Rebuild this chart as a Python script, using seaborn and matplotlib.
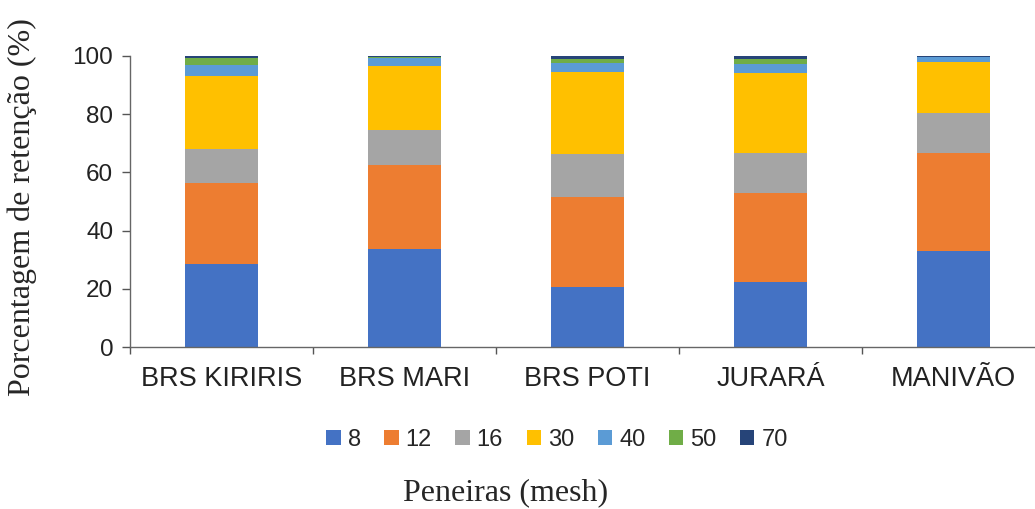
import numpy as np
import pandas as pd
import matplotlib
matplotlib.use("Agg")
import matplotlib.pyplot as plt
import matplotlib.ticker as ticker
from matplotlib.patches import Patch
import seaborn as sns

# Cultivares e frações retidas (%) por peneira (mesh)
cultivares = ["BRS KIRIRIS", "BRS MARI", "BRS POTI", "JURARÁ", "MANIVÃO"]
peneiras = ["8", "12", "16", "30", "40", "50", "70"]
m8 = [28.5, 33.7, 20.6, 22.3, 33.0]
m12 = [27.9, 28.8, 30.9, 30.6, 33.7]
m16 = [11.6, 12.1, 14.8, 13.8, 13.7]
m30 = [25.0, 22.0, 28.2, 27.3, 17.4]
m40 = [4.0, 2.8, 3.2, 3.4, 1.7]
m50 = [2.2, 0.4, 1.4, 1.5, 0.3]
m70 = [0.8, 0.2, 0.9, 1.1, 0.2]
cores = ["#4472C4", "#ED7D31", "#A5A5A5", "#FFC000", "#5B9BD5", "#70AD47", "#264478"]

df = pd.DataFrame({"cultivar": cultivares, "8": m8, "12": m12, "16": m16, "30": m30,
                   "40": m40, "50": m50, "70": m70})
cum = df[peneiras].cumsum(axis=1)
cum["cultivar"] = df["cultivar"]

sns.set_theme(style="white")
plt.rcParams["font.family"] = ["Liberation Sans", "DejaVu Sans"]

fig = plt.figure(figsize=(10.35, 5.09), dpi=100)
ax = fig.add_axes([130 / 1035, 1 - 347 / 509, 915 / 1035, 291 / 509])

# overlay cumulative totals from top layer down
for p, c in reversed(list(zip(peneiras, cores))):
    sns.barplot(data=cum, x="cultivar", y=p, color=c, width=0.4, saturation=1,
                order=cultivares, ax=ax, linewidth=0)

ax.set_xlim(-0.5, 4.5)
ax.set_ylim(0, 100)
ax.yaxis.set_major_locator(ticker.MultipleLocator(20))
ax.xaxis.set_minor_locator(ticker.FixedLocator(np.arange(-0.5, 5, 1)))
ax.tick_params(axis="x", which="major", length=0, labelsize=19.5, pad=14, colors="#222222")
ax.tick_params(axis="x", which="minor", length=5, width=1, color="#555555", direction="out", bottom=True)
ax.tick_params(axis="y", length=6, width=1, color="#555555", direction="out", left=True,
               labelsize=17.5, labelcolor="#222222", pad=6)
sns.despine(ax=ax)
for s in ["left", "bottom"]:
    ax.spines[s].set_color("#666666")
    ax.spines[s].set_linewidth(1)
ax.set_xlabel("")
ax.set_ylabel("")

fig.text(22 / 1035, 1 - 207 / 509, "Porcentagem de retenção (%)", rotation=90,
         ha="center", va="center", fontsize=23, family=["Liberation Serif", "DejaVu Serif"])
fig.text(506 / 1035, 1 - 493 / 509, "Peneiras (mesh)", ha="center", va="center",
         fontsize=23, family=["Liberation Serif", "DejaVu Serif"])

handles = [Patch(facecolor=c, edgecolor="none", label=p) for p, c in zip(peneiras, cores)]
fig.legend(handles=handles, loc="center", bbox_to_anchor=(557 / 1035, 1 - 440 / 509),
           ncol=7, frameon=False, fontsize=17, handlelength=0.6, handleheight=0.6,
           handletextpad=0.3, columnspacing=1.0)

fig.savefig("out.png", dpi=100)
